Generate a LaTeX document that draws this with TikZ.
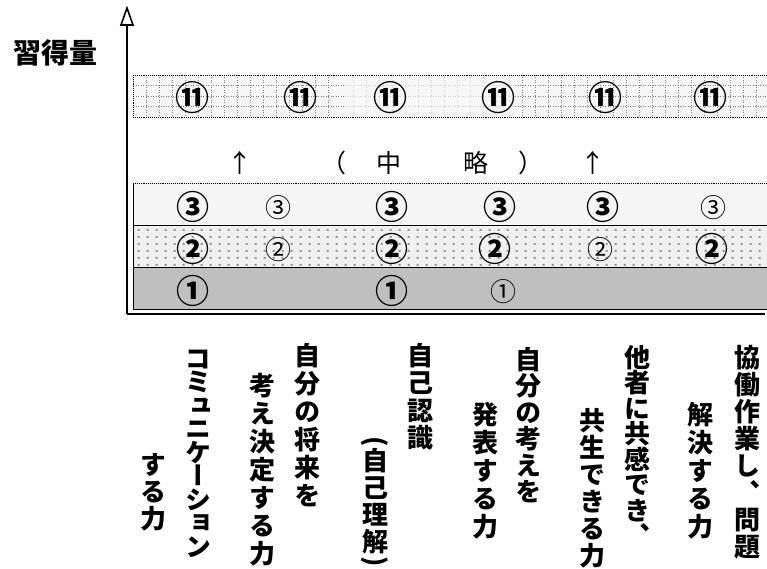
\documentclass[tikz,border=0pt]{standalone}
\usepackage{fontspec}
\usetikzlibrary{arrows.meta,patterns.meta}
\newfontfamily\jp{Noto Sans CJK JP}
\newfontfamily\jpv{Noto Sans CJK JP}[RawFeature=+vert]
\tikzdeclarepattern{
  name=xmk,
  type=uncolored,
  bounding box={(0pt,0pt) and (9pt,7pt)},
  tile size={(9pt,7pt)},
  code={\draw[line width=0.5pt] (3pt,2.5pt) -- (5pt,4.5pt) (3pt,4.5pt) -- (5pt,2.5pt);}
}
\tikzset{
  vch/.style={anchor=base, inner sep=0pt, font=\jpv\bfseries\fontsize{26}{26}\selectfont},
  vpar/.style={inner sep=0pt, rotate=-90, font=\jp\bfseries\fontsize{26}{26}\selectfont},
  cbig/.style={inner sep=0pt, font=\jp\bfseries\fontsize{33}{33}\selectfont},
  csmall/.style={inner sep=0pt, font=\jp\fontsize{26}{26}\selectfont},
  celev/.style={inner sep=0pt, font=\jp\bfseries\fontsize{34}{34}\selectfont},
  midtxt/.style={inner sep=0pt, font=\jp\fontsize{25}{25}\selectfont},
  gridd/.style={dotted, line width=0.5pt, black!50},
  gridf/.style={dotted, line width=0.5pt, black!18},
  bandline/.style={line width=1pt},
  dotline/.style={densely dotted, line width=0.9pt},
  axisline/.style={line width=2.6pt},
}
% #1 name, #2 x, #3 baseline y of first char, #4 pitch, #5 chars
\newcommand\vcolumn[5]{%
  \foreach \ch [count=\i from 0] in {#5} {\node[vch] (#1-\i) at (#2, #3+\i*#4) {\ch};}%
}
\begin{document}
\begin{tikzpicture}[x=1pt,y=-1pt]
\useasboundingbox (0,0) rectangle (767,569);
% band 11
\fill[black!3] (133,75) rectangle (767,117);
\foreach \gx in {146,159,...,340} {\draw[gridd] (\gx,75) -- (\gx,117);}
\foreach \gx in {522,535,...,767} {\draw[gridd] (\gx,75) -- (\gx,117);}
\foreach \gx in {353,366,...,510} {\draw[gridf] (\gx,75) -- (\gx,117);}
\foreach \gy in {85.5,96,106.5} {
  \draw[gridd] (133,\gy) -- (345,\gy);
  \draw[gridf] (345,\gy) -- (515,\gy);
  \draw[gridd] (515,\gy) -- (767,\gy);
}
\draw[dotline] (133,75) -- (767,75) (133,117) -- (767,117);
\draw[dotline] (133,75) -- (133,117);
% band 3
\fill[black!4] (133,183) rectangle (767,225);
\draw[dotline] (133,183) -- (767,183);
% band 2
\fill[black!6] (133,225) rectangle (767,267);
\fill[pattern=xmk, pattern color=black!55] (133,225) rectangle (767,267);
% band 1
\fill[black!25] (133,267) rectangle (767,309);
\draw[bandline] (133,225) -- (767,225) (133,267) -- (767,267) (133,309) -- (767,309);
\draw[bandline] (133,183) -- (133,309);
% axes
\coordinate (O) at (127,314);
\coordinate (Ybase) at (127,24);
\coordinate (Ytop) at (127,8);
\coordinate (Xend) at (765,314);
\draw[axisline] (O) -- (Xend);
\draw[axisline] (O) -- (Ybase);
\draw[line width=1.6pt, fill=white, line join=miter] (Ytop) -- (121,25) -- (133,25) -- cycle;
\node[inner sep=0pt, font=\jp\bfseries\fontsize{28}{28}\selectfont] (ylab) at (55,53) {習得量};
% band 11 numbers
\node[celev] (e1) at (192,98) {⑪};
\node[celev] (e2) at (300,98) {⑪};
\node[celev] (e3) at (390,98) {⑪};
\node[celev] (e4) at (498,98) {⑪};
\node[celev] (e5) at (605,98) {⑪};
\node[celev] (e6) at (710,98) {⑪};
% middle row
\node[midtxt] (up1) at (240,163) {↑};
\node[midtxt] (lp) at (334,163) {（};
\node[midtxt] (chu) at (389,163) {中};
\node[midtxt] (ryaku) at (476,163) {略};
\node[midtxt] (rp) at (531,163) {）};
\node[midtxt] (up2) at (593,163) {↑};
% band 3
\node[cbig] (t1) at (193,207) {③};
\node[csmall] (t2) at (278,208) {③};
\node[cbig] (t3) at (392,207) {③};
\node[cbig] (t4) at (500,207) {③};
\node[cbig] (t5) at (603,207) {③};
\node[csmall] (t6) at (713,208) {③};
% band 2
\node[cbig] (s1) at (193,249) {②};
\node[csmall] (s2) at (278,250) {②};
\node[cbig] (s3) at (392,249) {②};
\node[cbig] (s4) at (495,249) {②};
\node[csmall] (s5) at (600,250) {②};
\node[cbig] (s6) at (712,249) {②};
% band 1
\node[cbig] (f1) at (193,291) {①};
\node[cbig] (f2) at (392,291) {①};
\node[csmall] (f3) at (503,292) {①};
% vertical labels
\vcolumn{l1a}{198}{368}{23.5}{コ,ミ,ュ,ニ,ケ,ー,シ,ョ,ン}
\vcolumn{l1b}{153}{474}{27}{す,る,力}
\vcolumn{l2a}{307}{365}{28}{自,分,の,将,来,を}
\vcolumn{l2b}{262}{395}{28}{考,え,決,定,す,る,力}
\vcolumn{l3a}{420}{365}{27.5}{自,己,認,識}
\node[vpar] (l3b-0) at (375,442) {(};
\vcolumn{l3b}{375}{470}{27}{自,己,理,解}
\node[vpar] (l3b-5) at (375,562) {)};
\vcolumn{l4a}{528}{369}{26.5}{自,分,の,考,え,を}
\vcolumn{l4b}{485}{424}{28}{発,表,す,る,力}
\vcolumn{l5a}{637}{367}{25.5}{他,者,に,共,感,で,き,、}
\vcolumn{l5b}{592}{430}{27}{共,生,で,き,る,力}
\vcolumn{l6a}{747}{367}{27}{協,働,作,業,し,、,問,題}
\vcolumn{l6b}{700}{424}{28}{解,決,す,る,力}
\end{tikzpicture}
\end{document}
